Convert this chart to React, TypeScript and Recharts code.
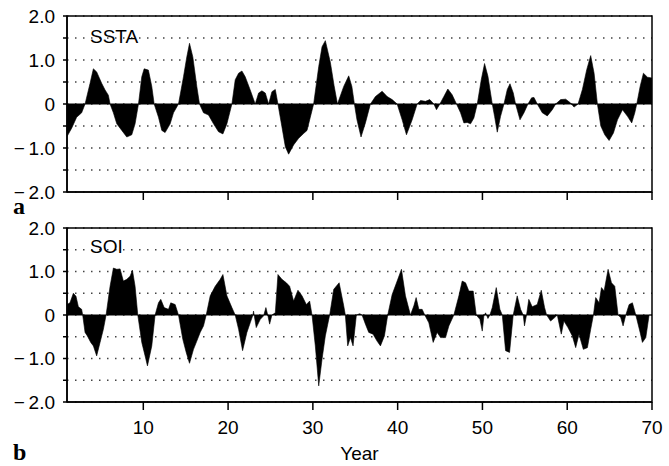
import {
  Area,
  AreaChart,
  CartesianGrid,
  ReferenceArea,
  ReferenceLine,
  XAxis,
  YAxis,
} from "recharts";

// SSTA (panel a), smoothed anomaly per year
const sstaYears = [
  1, 1.55, 2.14, 2.73, 3.13, 3.72, 4.11, 4.5, 5.09, 5.49, 5.88, 6.08, 6.47, 6.87,
  7.46, 8.05, 8.64, 9.03, 9.43, 9.82, 10.1, 10.6, 11.0, 11.28, 11.79, 12.18, 12.57,
  13.17, 13.56, 14.15, 14.74, 15.13, 15.45, 15.84, 16.31, 16.63, 17.1, 17.69, 18.28,
  18.87, 19.39, 19.86, 20.45, 20.84, 21.24, 21.63, 22.02, 22.61, 23.2, 23.6, 23.99,
  24.39, 24.78, 25.17, 25.57, 25.88, 26.35, 26.75, 27.14, 27.73, 28.32, 28.91, 29.31,
  29.7, 30.09, 30.69, 31.08, 31.47, 32.06, 32.5, 32.9, 33.64, 34.23, 34.6, 34.9,
  35.2, 35.68, 36.2, 36.79, 37.38, 38.17, 38.76, 39.35, 39.94, 40.53, 41.04, 41.71,
  42.3, 42.7, 43.28, 43.79, 44.27, 44.58, 44.98, 45.45, 45.92, 46.43, 46.94, 47.42,
  47.81, 48.2, 48.6, 48.99, 49.39, 49.86, 50.25, 50.65, 51.16, 51.43, 51.75, 52.14,
  52.54, 52.93, 53.25, 53.64, 53.91, 54.43, 54.9, 55.37, 55.8, 56.08, 56.47, 57.06,
  57.65, 58.24, 58.64, 59.23, 59.82, 60.41, 60.8, 61.28, 61.79, 62.3, 62.77, 63.17,
  63.56, 63.96, 64.43, 64.94, 65.45, 65.93, 66.52, 67.11, 67.61, 67.97, 68.2, 68.6,
  68.99, 69.46, 70,
];
const sstaValues = [
  -0.74, -0.55, -0.3, -0.2, 0, 0.47, 0.8, 0.73, 0.47, 0.32, 0.2, 0, -0.2, -0.45,
  -0.6, -0.75, -0.7, -0.45, 0, 0.62, 0.8, 0.77, 0.4, 0, -0.3, -0.6, -0.65,
  -0.45, -0.2, 0, 0.62, 1.07, 1.38, 1.07, 0.4, 0, -0.2, -0.25, -0.45,
  -0.63, -0.68, -0.45, 0, 0.55, 0.7, 0.75, 0.62, 0.32, 0, 0.25, 0.3,
  0.25, 0, 0.28, 0.33, 0, -0.52, -0.97, -1.14, -0.93, -0.78, -0.67, -0.6,
  -0.3, 0, 0.85, 1.3, 1.44, 0.95, 0.42, 0, 0.4, 0.64, 0.4, 0,
  -0.36, -0.75, -0.43, 0, 0.17, 0.29, 0.17, 0.1, 0, -0.36, -0.7, -0.36,
  0, 0.08, 0.06, 0.1, 0, -0.13, 0, 0.17, 0.34, 0.21, 0, -0.2,
  -0.43, -0.42, -0.45, -0.32, 0, 0.55, 0.92, 0.63, 0, -0.28, -0.64, -0.28,
  0, 0.33, 0.46, 0.25, 0, -0.36, -0.2, 0, 0.14, 0.15, 0, -0.2,
  -0.27, -0.13, 0, 0.1, 0.11, 0.02, -0.07, 0, 0.33, 0.78, 1.1, 0.7,
  0, -0.5, -0.7, -0.83, -0.66, -0.36, -0.13, -0.28, -0.43, -0.2, 0, 0.4,
  0.7, 0.61, 0.59,
];

// SOI (panel b)
const soiYears = [
  1, 1.35, 1.75, 2.06, 2.34, 2.73, 2.85, 3.13, 3.4, 3.8, 4.11, 4.5, 4.9, 5.29, 5.61,
  6.08, 6.47, 6.87, 7.26, 7.65, 8.05, 8.44, 8.72, 9.03, 9.35, 9.82, 10.21, 10.49,
  11.0, 11.39, 11.79, 12.06, 12.46, 12.97, 13.24, 13.76, 14.15, 14.66, 15.06, 15.45,
  15.92, 16.31, 16.71, 17.1, 17.42, 17.89, 18.48, 19.07, 19.39, 19.86, 20.45, 20.84,
  21.24, 21.71, 22.22, 22.61, 22.93, 23.0, 23.32, 23.8, 24.19, 24.46, 24.7, 24.9,
  25.17, 25.57, 25.88, 26.35, 26.87, 27.26, 27.73, 28.24, 28.72, 29.23, 29.62, 29.9,
  30.29, 30.69, 31.08, 31.47, 31.98, 32.46, 33.1, 33.64, 33.83, 34.11, 34.43, 34.74,
  35.13, 35.53, 35.8, 36.2, 36.59, 37.1, 37.57, 37.97, 38.44, 38.83, 39.35, 39.94,
  40.45, 40.92, 41.51, 41.91, 42.18, 42.5, 42.89, 43.2, 43.68, 44.19, 44.66, 45.06,
  45.65, 46.04, 46.63, 47.22, 47.61, 48.01, 48.4, 48.91, 49.27, 49.7, 49.98, 50.17,
  50.37, 50.65, 50.88, 51.16, 51.63, 52.06, 52.34, 52.73, 53.2, 53.63, 54.1, 54.5,
  54.81, 54.96, 55.2, 55.47, 55.87, 56.46, 56.94, 57.33, 57.57, 58.04, 58.52, 58.83,
  59.3, 59.61, 60.09, 60.6, 61.0, 61.39, 61.9, 62.38, 62.77, 63.09, 63.36, 63.76,
  64.04, 64.35, 64.82, 65.22, 65.61, 66.0, 66.31, 66.59, 66.91, 67.3, 67.69, 68.09,
  68.6, 68.87, 69.27, 69.66, 70,
];
const soiValues = [
  0.24, 0.28, 0.5, 0.43, 0.19, 0.13, 0, -0.4, -0.48, -0.63, -0.71, -0.94, -0.63, -0.33, 0,
  0.66, 1.08, 1.05, 1.06, 0.78, 0.82, 0.89, 1.03, 0.66, 0, -0.63, -0.94, -1.17,
  -0.71, 0, 0.28, 0.36, 0.17, 0.13, 0.28, 0.24, 0, -0.56, -0.86, -1.11,
  -0.79, -0.6, -0.4, -0.25, 0, 0.44, 0.66, 0.82, 0.93, 0.44, 0.17, 0,
  -0.33, -0.82, -0.4, -0.18, 0, 0.09, -0.29, -0.1, -0.02, 0.17, -0.02, -0.21,
  0, 0.05, 0.93, 0.82, 0.74, 0.66, 0.32, 0.57, 0.44, 0.24, 0.32, 0,
  -0.71, -1.63, -1.02, -0.48, 0, 0.59, 0.74, 0.21, 0, -0.71, -0.52, -0.71,
  0, 0.03, 0, -0.21, -0.4, -0.44, -0.6, -0.71, -0.48, 0, 0.47, 0.78,
  1.05, 0.44, 0, 0.21, 0.4, 0.13, 0.13, 0, -0.18, -0.63, -0.4, -0.52,
  -0.52, -0.25, 0, 0.44, 0.78, 0.74, 0.55, 0.55, 0, -0.1, -0.37, -0.02,
  0.05, -0.08, 0, 0.17, 0.63, 0.13, 0, -0.82, -0.86, 0, 0.44, 0.13,
  0, -0.25, 0, 0.36, 0.19, 0.24, 0.57, 0.17, 0, -0.14, -0.06, 0,
  -0.44, -0.14, -0.29, -0.48, -0.75, -0.44, -0.79, -0.75, -0.33, 0, 0.4, 0.28,
  0.63, 0.55, 1.05, 0.74, 0.66, 0, -0.06, -0.25, 0, 0.24, 0.28, 0,
  -0.4, -0.63, -0.52, 0, 0,
];

const yearTicks = [10, 20, 30, 40, 50, 60, 70];
const valueTicks = [-2, -1.5, -1, -0.5, 0, 0.5, 1, 1.5, 2];
const valueLabels: Record<string, string> = {
  "2": "2.0",
  "1": "1.0",
  "0": "0",
  "-1": "\u2212\u20091.0",
  "-2": "\u2212\u20092.0",
};

const SANS = '"Liberation Sans", Arial, Helvetica, sans-serif';
const SERIF = '"Liberation Serif", "Times New Roman", serif';

type PanelProps = {
  years: number[];
  values: number[];
  title: string;
  letter: string;
  top: number;
  height: number;
  bottomAxis: boolean;
  titleTop: number;
  letterTop: number;
};

function Panel({
  years,
  values,
  title,
  letter,
  top,
  height,
  bottomAxis,
  titleTop,
  letterTop,
}: PanelProps) {
  const data = years.map((year, i) => ({ year, value: values[i] }));
  const line = { stroke: "#000", strokeWidth: 1.5 };

  return (
    <div style={{ position: "absolute", left: 0, top, width: 669, height }}>
      <AreaChart
        width={669}
        height={height}
        data={data}
        margin={{ top: 16, right: 17, bottom: 0, left: 0 }}
      >
        <CartesianGrid
          vertical={false}
          stroke="#444"
          strokeWidth={1.3}
          strokeDasharray="1.5 6.5"
        />
        <XAxis
          dataKey="year"
          type="number"
          domain={[1, 70]}
          allowDataOverflow
          ticks={yearTicks}
          interval={0}
          height={bottomAxis ? 64 : 23}
          tickSize={8}
          tickMargin={11}
          axisLine={line}
          tickLine={line}
          tick={{ fill: "#000", fontSize: 19, fontFamily: SANS }}
          tickFormatter={(v: number) => (bottomAxis ? String(v) : "")}
          label={
            bottomAxis
              ? {
                  value: "Year",
                  position: "insideBottom",
                  offset: 6,
                  fill: "#000",
                  fontSize: 19,
                  fontFamily: SANS,
                }
              : undefined
          }
        />
        <YAxis
          type="number"
          domain={[-2, 2]}
          ticks={valueTicks}
          interval={0}
          width={67}
          tickSize={4}
          tickMargin={8}
          axisLine={line}
          tickLine={line}
          tick={{ fill: "#000", fontSize: 19, fontFamily: SANS }}
          tickFormatter={(v: number) => valueLabels[String(v)] ?? ""}
        />
        <Area
          type="linear"
          dataKey="value"
          baseValue={0}
          fill="#000"
          fillOpacity={1}
          stroke="#000"
          strokeWidth={0.6}
          dot={false}
          activeDot={false}
          isAnimationActive={false}
        />
        <ReferenceLine y={0} stroke="#000" strokeWidth={1.2} />
        <ReferenceArea
          x1={1}
          x2={70}
          y1={-2}
          y2={2}
          fill="none"
          stroke="#000"
          strokeWidth={1.5}
        />
      </AreaChart>
      <span
        style={{
          position: "absolute",
          left: 90,
          top: titleTop,
          fontFamily: SANS,
          fontSize: 19,
          lineHeight: "19px",
          color: "#000",
        }}
      >
        {title}
      </span>
      <span
        style={{
          position: "absolute",
          left: 13,
          top: letterTop,
          fontFamily: SERIF,
          fontWeight: "bold",
          fontSize: 24,
          lineHeight: "6px",
          color: "#000",
        }}
      >
        {letter}
      </span>
    </div>
  );
}

export default function App() {
  return (
    <div
      style={{
        position: "absolute",
        left: 0,
        top: 0,
        width: 669,
        height: 466,
        background: "#fff",
      }}
    >
      <Panel
        years={sstaYears}
        values={sstaValues}
        title="SSTA"
        letter="a"
        top={0}
        height={215}
        bottomAxis={false}
        titleTop={27}
        letterTop={203}
      />
      <Panel
        years={soiYears}
        values={soiValues}
        title="SOI"
        letter="b"
        top={212}
        height={254}
        bottomAxis={true}
        titleTop={25}
        letterTop={237}
      />
    </div>
  );
}
